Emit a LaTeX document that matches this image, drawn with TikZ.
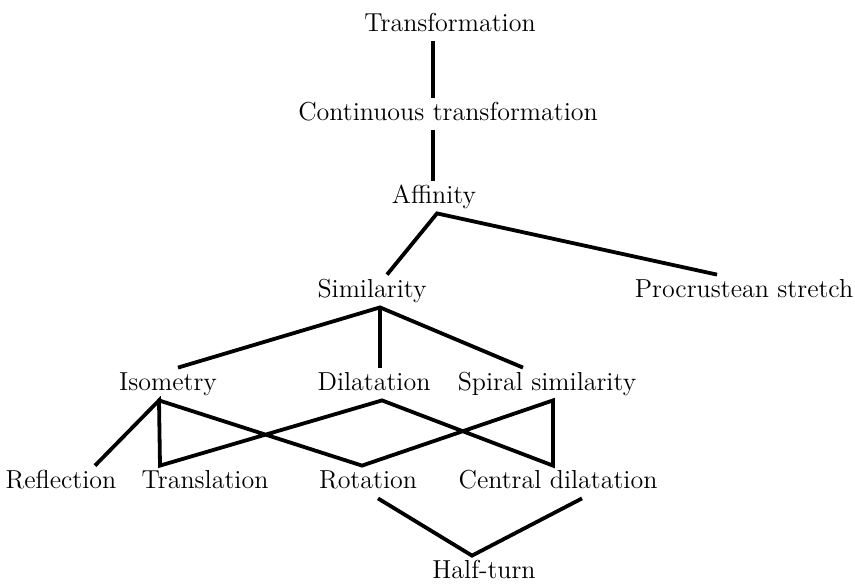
\documentclass[tikz,border=0pt]{standalone}
\usepackage{tikz}

\begin{document}
\begin{tikzpicture}[x=0.5pt,y=-0.5pt,
  term/.style={anchor=base,inner xsep=0pt,inner ysep=2pt,text height=9pt,text depth=3pt,font=\fontsize{13}{15}\selectfont},
  link/.style={line width=1.9pt,line join=miter}]
\useasboundingbox (0,0) rectangle (855,585);
\node[term] (tr) at (450,31) {Transformation};
\node[term] (ct) at (448,120) {Continuous transformation};
\node[term] (aff) at (434,203) {Affinity};
\node[term] (sim) at (372,297) {Similarity};
\node[term] (pro) at (744,297) {Procrustean stretch};
\node[term] (iso) at (168,390) {Isometry};
\node[term] (dil) at (374,390) {Dilatation};
\node[term] (spi) at (547,390) {Spiral similarity};
\node[term] (ref) at (61,488) {Reflection};
\node[term] (tra) at (205,488) {Translation};
\node[term] (rot) at (368,488) {Rotation};
\node[term] (cen) at (558,488) {Central dilatation};
\node[term] (half) at (484,578) {Half-turn};
\draw[link] ([xshift=-8.5pt]tr.south) -- ([xshift=-7.5pt]ct.north);
\draw[link] ([xshift=-7.5pt]ct.south) -- ([xshift=-0.5pt]aff.north);
\draw[link] ([xshift=7.5pt]sim.north) -- ([xshift=1.5pt]aff.south) -- ([xshift=-13.5pt]pro.north);
\draw[link] ([xshift=5pt]iso.north) -- ([xshift=4pt]sim.south) -- ([xshift=-12pt]spi.north);
\draw[link] ([xshift=4pt]sim.south) -- ([xshift=3pt]dil.north);
\draw[link] ([xshift=17pt]ref.north) -- ([xshift=-4.5pt]iso.south) -- ([xshift=-22.5pt]tra.north)
  -- ([xshift=4pt]dil.south) -- ([xshift=-2.5pt]cen.north) -- ([xshift=3pt]spi.south)
  -- ([xshift=-3pt]rot.north) -- ([xshift=-4.5pt]iso.south);
\draw[link] ([xshift=5pt]rot.south) -- ([xshift=-6pt]half.north) -- ([xshift=12pt]cen.south);
\end{tikzpicture}
\end{document}
